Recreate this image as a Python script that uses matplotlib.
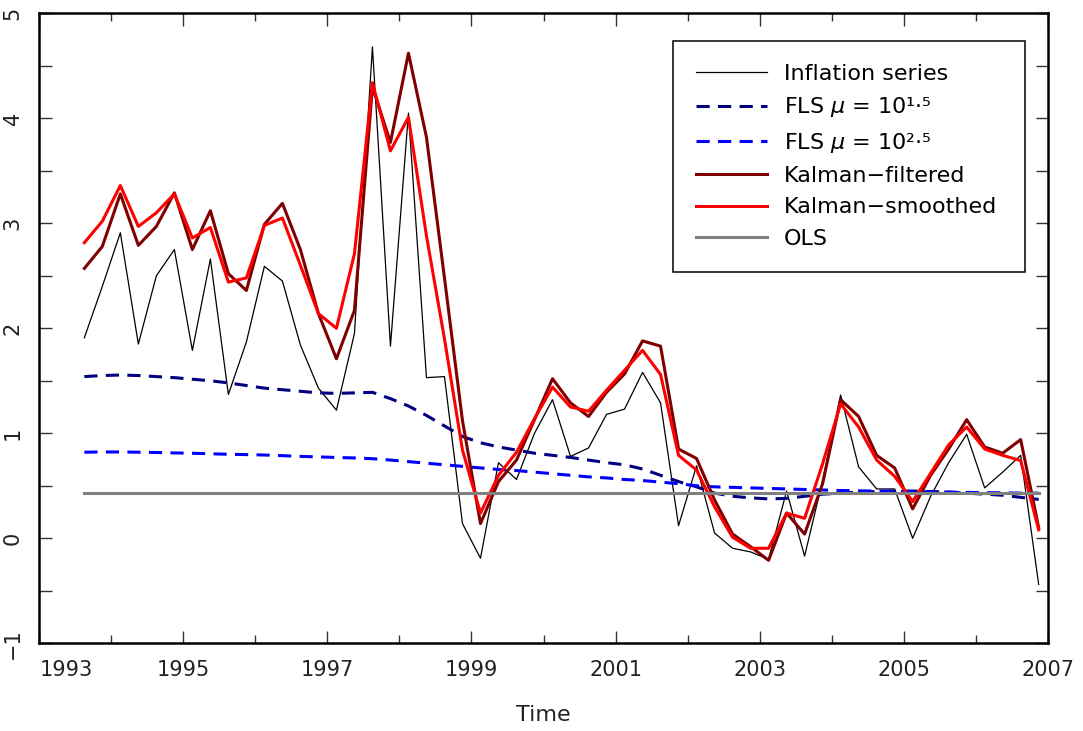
import numpy as np
import matplotlib.pyplot as plt
from matplotlib.ticker import MultipleLocator

plt.rcParams['font.family'] = ['DejaVu Sans']
plt.rcParams['lines.scale_dashes'] = False

# quarterly observations, 1993Q3 .. 2006Q4, plotted at quarter midpoints
first_quarter = 1993.625
n_quarters = 54
t = first_quarter + 0.25 * np.arange(n_quarters)

inflation = [1.91, 2.40, 2.91, 1.85, 2.50, 2.75, 1.79, 2.66, 1.37, 1.87, 2.59, 2.45, 1.84, 1.43,
             1.22, 1.95, 4.68, 1.83, 4.05, 1.53, 1.54, 0.14, -0.19, 0.72, 0.56, 1.00, 1.32, 0.78,
             0.86, 1.18, 1.23, 1.58, 1.29, 0.12, 0.69, 0.05, -0.095, -0.13, -0.20, 0.45, -0.17,
             0.55, 1.365, 0.68, 0.47, 0.47, 0.00, 0.40, 0.72, 0.99, 0.48, 0.63, 0.79, -0.44]

fls_15 = [1.54, 1.55, 1.555, 1.55, 1.54, 1.53, 1.515, 1.50, 1.48, 1.455, 1.43, 1.415, 1.40, 1.385,
          1.38, 1.385, 1.39, 1.33, 1.26, 1.17, 1.07, 0.97, 0.91, 0.87, 0.84, 0.81, 0.79, 0.77,
          0.745, 0.72, 0.70, 0.66, 0.60, 0.54, 0.49, 0.43, 0.40, 0.385, 0.375, 0.38, 0.40, 0.42,
          0.43, 0.44, 0.445, 0.45, 0.45, 0.445, 0.44, 0.43, 0.42, 0.41, 0.39, 0.37]

fls_25 = [0.82, 0.822, 0.822, 0.82, 0.817, 0.813, 0.81, 0.805, 0.80, 0.797, 0.793, 0.787, 0.78,
          0.775, 0.77, 0.765, 0.758, 0.745, 0.73, 0.715, 0.70, 0.685, 0.67, 0.655, 0.645, 0.63,
          0.615, 0.60, 0.585, 0.575, 0.56, 0.55, 0.535, 0.52, 0.50, 0.49, 0.485, 0.48, 0.475,
          0.47, 0.465, 0.46, 0.455, 0.452, 0.45, 0.447, 0.445, 0.442, 0.44, 0.437, 0.435, 0.433,
          0.43, 0.43]

kalman_filt = [2.57, 2.78, 3.28, 2.79, 2.97, 3.29, 2.75, 3.12, 2.52, 2.36, 2.99, 3.19, 2.75, 2.14,
               1.71, 2.17, 4.30, 3.77, 4.62, 3.82, 2.48, 1.12, 0.14, 0.54, 0.745, 1.13, 1.52, 1.29,
               1.16, 1.39, 1.565, 1.88, 1.83, 0.85, 0.76, 0.365, 0.04, -0.08, -0.21, 0.24, 0.04,
               0.52, 1.32, 1.16, 0.79, 0.67, 0.28, 0.60, 0.85, 1.13, 0.87, 0.81, 0.94, 0.10]

kalman_smooth = [2.815, 3.02, 3.36, 2.97, 3.10, 3.28, 2.86, 2.96, 2.44, 2.48, 2.98, 3.05, 2.60,
                 2.14, 2.00, 2.71, 4.34, 3.69, 4.01, 2.88, 1.90, 0.84, 0.24, 0.60, 0.82, 1.14,
                 1.44, 1.25, 1.21, 1.41, 1.60, 1.79, 1.56, 0.79, 0.65, 0.30, 0.01, -0.095, -0.095,
                 0.24, 0.19, 0.71, 1.28, 1.06, 0.745, 0.59, 0.35, 0.62, 0.89, 1.06, 0.85, 0.79,
                 0.74, 0.08]

ols_level = 0.43

fig = plt.figure(figsize=(10.83, 7.31), dpi=100)
ax = fig.add_axes([0.0363, 0.12, 0.9311, 0.8618])

dash = (9.5, 6)
ax.plot(t, inflation, color='black', lw=0.9, label='Inflation series')
ax.plot(t, fls_15, color='#000080', lw=2.2, dashes=dash, label='FLS $\\mu$ = 10\u00b9\u00b7\u2075')
ax.plot(t, fls_25, color='#0000FF', lw=2.2, dashes=dash, label='FLS $\\mu$ = 10\u00b2\u00b7\u2075')
ax.plot(t, kalman_filt, color='#800000', lw=2.2, label='Kalman\u2212filtered')
ax.plot(t, kalman_smooth, color='#FF0000', lw=2.2, label='Kalman\u2212smoothed')
ax.plot(t, np.full(n_quarters, ols_level), color='#808080', lw=2.2, label='OLS')

ax.set_xlim(1993, 2007)
ax.set_ylim(-1, 5)
ax.set_xticks(np.arange(1993, 2008, 2))
ax.xaxis.set_minor_locator(MultipleLocator(1))
ax.yaxis.set_major_locator(MultipleLocator(1))
ax.yaxis.set_minor_locator(MultipleLocator(0.5))

ax.tick_params(which='both', direction='in', top=True, right=True, color='#333333', width=1)
ax.tick_params(which='major', length=9, labelsize=15, pad=12, labelcolor='#222222')
ax.tick_params(axis='x', which='minor', length=6)
ax.tick_params(axis='y', which='minor', length=9)
for lab in ax.get_yticklabels():
    lab.set_rotation(90)
    lab.set_va('center')
ax.get_xticklabels()[0].set_horizontalalignment('left')

for s in ax.spines.values():
    s.set_linewidth(1.8)

ax.set_xlabel('Time', fontsize=16, labelpad=18, color='#222222')

leg = ax.legend(loc='upper left', bbox_to_anchor=(0.6284, 0.5914, 0.3491, 0.3651),
                mode='expand', borderaxespad=0, fontsize=16, frameon=True, fancybox=False,
                framealpha=1, edgecolor='black', borderpad=1.05, labelspacing=0.51,
                handlelength=3.2, handletextpad=0.75)
leg.get_frame().set_linewidth(1.1)

fig.savefig('out.png', dpi=100)
